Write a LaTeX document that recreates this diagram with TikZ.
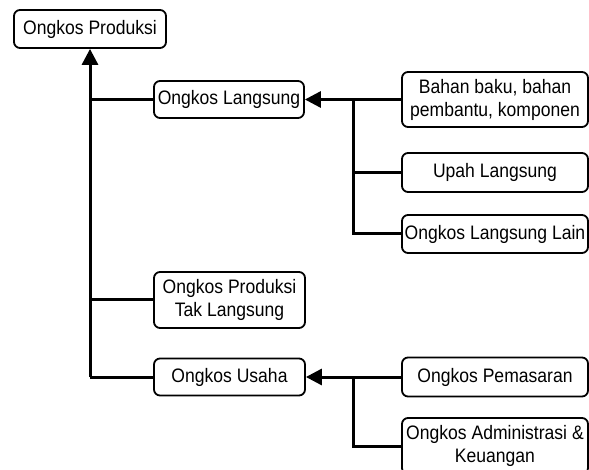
\documentclass[tikz,border=0pt]{standalone}
\usepackage{fontspec}
\setmainfont{Liberation Sans}[FakeStretch=0.9]
\usetikzlibrary{arrows.meta}
\begin{document}
\begin{tikzpicture}[x=1pt,y=-1pt,
  box/.style={draw, line width=1.8pt, rounded corners=6pt, align=center, inner sep=0pt,
    font=\fontsize{19.5}{23}\selectfont},
  conn/.style={line width=3pt},
  arr/.style={conn, -{Triangle[length=16pt,width=16pt]}}]
\useasboundingbox (0,0) rectangle (589,470);
\clip (0,0) rectangle (589,470);
\node[box, minimum width=152pt, minimum height=38pt] (op) at (90,29) {Ongkos Produksi};
\node[box, minimum width=150pt, minimum height=37pt] (ol) at (229,99.5) {Ongkos Langsung};
\node[box, minimum width=151pt, minimum height=56pt] (ptl) at (229.5,300) {Ongkos Produksi\\Tak Langsung};
\node[box, minimum width=151pt, minimum height=37pt] (ou) at (229.5,377) {Ongkos Usaha};
\node[box, minimum width=186pt, minimum height=55pt] (bb) at (495,99.5) {Bahan baku, bahan\\pembantu, komponen};
\node[box, minimum width=186pt, minimum height=39pt] (ul) at (495,172.5) {Upah Langsung};
\node[box, minimum width=186pt, minimum height=38pt] (oll) at (495,234) {Ongkos Langsung Lain};
\node[box, minimum width=186pt, minimum height=39pt] (pm) at (495,377) {Ongkos Pemasaran};
\node[box, minimum width=186pt, minimum height=56pt] (ad) at (495,446) {Ongkos Administrasi \&\\Keuangan};
\coordinate (t) at (90,377);
\coordinate (j1) at (353,99.5);
\coordinate (j2) at (353,377);
\draw[arr] (t) -- (op.south);
\draw[conn] (t |- ol.west) -- (ol.west);
\draw[conn] (t |- ptl.west) -- (ptl.west);
\draw[conn] (t) -- (ou.west);
\draw[arr] (bb.west) -- (ol.east);
\draw[conn] (j1) |- (oll.west);
\draw[conn] (j1 |- ul.west) -- (ul.west);
\draw[arr] (pm.west) -- (ou.east);
\draw[conn] (j2) |- (ad.west);
\end{tikzpicture}
\end{document}
